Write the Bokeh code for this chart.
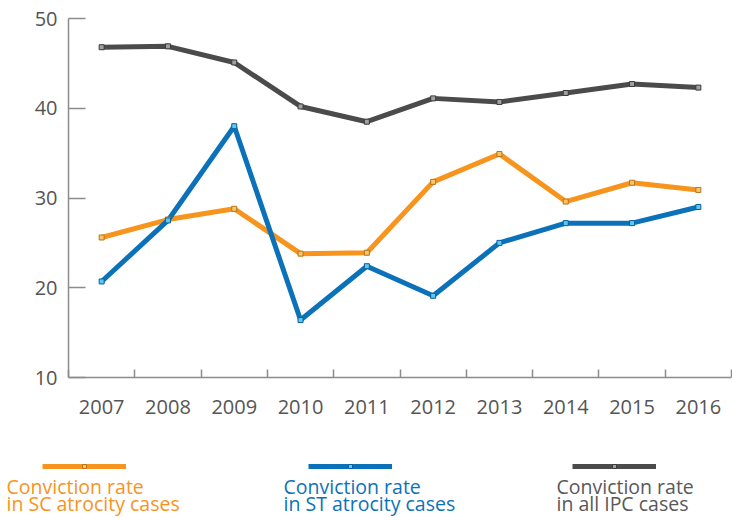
from bokeh.plotting import figure
from bokeh.layouts import column, row
from bokeh.models import Range1d, FixedTicker, Label, Legend, LegendItem
from bokeh.embed import file_html
from bokeh.resources import INLINE

years = [2007, 2008, 2009, 2010, 2011, 2012, 2013, 2014, 2015, 2016]
sc_rate = [25.6, 27.6, 28.8, 23.8, 23.9, 31.8, 34.9, 29.6, 31.7, 30.9]
st_rate = [20.7, 27.5, 38.0, 16.4, 22.4, 19.1, 25.0, 27.2, 27.2, 29.0]
ipc_rate = [46.8, 46.9, 45.1, 40.2, 38.5, 41.1, 40.7, 41.7, 42.7, 42.3]
y_ticks = [10, 20, 30, 40, 50]
series_names = ["Conviction rate\nin SC atrocity cases",
                "Conviction rate\nin ST atrocity cases",
                "Conviction rate\nin all IPC cases"]

ORANGE = "#F7941D"
BLUE = "#0B72BA"
GREY = "#4B4B4B"
AXIS = "#8C8C8C"
LABEL = "#555555"
FONT = "Open Sans"

p = figure(width=732, height=440, frame_width=663, frame_height=359,
           output_backend="svg", toolbar_location=None,
           x_range=Range1d(2006.5, 2016.5), y_range=Range1d(10, 50),
           min_border_left=68, min_border_top=18, min_border_bottom=63,
           min_border_right=1)
p.outline_line_color = None
p.grid.visible = False

# x axis
p.xaxis.ticker = FixedTicker(ticks=years, minor_ticks=[y - 0.5 for y in years] + [2016.5])
p.xaxis.major_tick_line_color = None
p.xaxis.minor_tick_line_color = AXIS
p.xaxis.minor_tick_line_width = 1.5
p.xaxis.minor_tick_in = 8
p.xaxis.minor_tick_out = 0
p.xaxis.axis_line_color = AXIS
p.xaxis.axis_line_width = 1.5
p.xaxis.major_label_text_font = FONT
p.xaxis.major_label_text_font_size = "20px"
p.xaxis.major_label_text_color = LABEL
p.xaxis.major_label_standoff = 16

# y axis
p.yaxis.ticker = FixedTicker(ticks=y_ticks, minor_ticks=[])
p.yaxis.major_tick_in = 17
p.yaxis.major_tick_out = 0
p.yaxis.major_tick_line_color = AXIS
p.yaxis.major_tick_line_width = 1.5
p.yaxis.axis_line_color = AXIS
p.yaxis.axis_line_width = 1.5
p.yaxis.major_label_text_font = FONT
p.yaxis.major_label_text_font_size = "20px"
p.yaxis.major_label_text_color = LABEL
p.yaxis.major_label_standoff = 11

series = [
    (sc_rate, ORANGE, "#F9C46A", "#B8731A"),
    (st_rate, BLUE, "#5EC8F0", "#0A5F9C"),
    (ipc_rate, GREY, "#A0A0A0", "#3A3A3A"),
]
for vals, col, mfill, mline in series:
    p.line(years, vals, line_color=col, line_width=5, line_join="round")
for vals, col, mfill, mline in series:
    p.scatter(years, vals, marker="square", size=5, fill_color=mfill,
              line_color=mline, line_width=1)

# legend strip below the chart (its own small plot; series drawn off-range)
lf = figure(width=732, height=78, output_backend="svg", toolbar_location=None,
            x_range=Range1d(0, 1), y_range=Range1d(0, 1),
            x_axis_type=None, y_axis_type=None,
            min_border_left=0, min_border_right=0, min_border_top=0,
            min_border_bottom=0)
lf.outline_line_color = None
lf.grid.visible = False

legend_x = [42, 308, 572]
text_x = [6, 283, 556]
text_cols = [ORANGE, BLUE, "#595959"]
for i, (vals, col, mfill, mline) in enumerate(series):
    ln = lf.line(years, vals, line_color=col, line_width=5)
    mk = lf.scatter(years, vals, marker="square", size=5, fill_color=mfill,
                    line_color=mline, line_width=1)
    lg = Legend(items=[LegendItem(label=" ", renderers=[ln, mk])],
                location=(legend_x[i], 47), glyph_width=84, glyph_height=10,
                label_height=10, label_width=1, label_standoff=0,
                label_text_font_size="2px", padding=0, margin=0, spacing=0,
                border_line_color=None, background_fill_alpha=0)
    lf.add_layout(lg, "center")
    for j, t in enumerate(series_names[i].split("\n")):
        lf.add_layout(Label(x=text_x[i], y=32 - 17 * j, x_units="screen", y_units="screen",
                            text=t, text_font=FONT, text_font_size="19.5px",
                            text_color=text_cols[i], text_baseline="alphabetic"))

layout = column(p, row(lf), spacing=0)
open("out.html", "w").write(file_html(layout, INLINE))
